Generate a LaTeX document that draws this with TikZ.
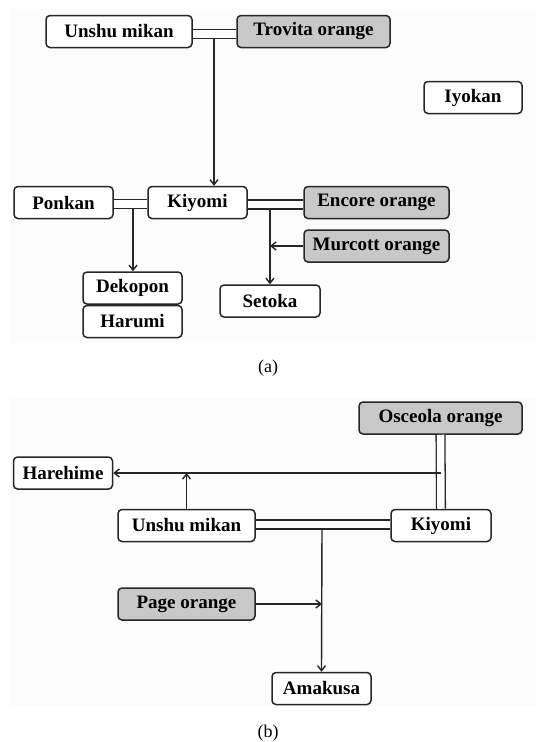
\documentclass[tikz,border=0pt]{standalone}
\usepackage{fontspec}
\setmainfont{Liberation Serif}
\usetikzlibrary{arrows.meta,calc}
\definecolor{boxgray}{HTML}{C8C8C8}
\definecolor{panel}{HTML}{FCFCFC}
\begin{document}
\begin{tikzpicture}[x=1pt,y=-1pt,
  cult/.style={draw=black!85,line width=1.5pt,rounded corners=4pt,fill=white,
    minimum height=32pt,inner sep=0pt,font=\fontsize{19}{22}\selectfont\bfseries},
  parent/.style={cult,fill=boxgray},
  dbl/.style={draw=black!85,double=white,double distance=7.5pt,line width=1.3pt},
  arr/.style={draw=black!85,line width=1.4pt,-{Straight Barb[length=5pt,width=8pt]}},
  captext/.style={font=\fontsize{18}{20}\selectfont}]
\useasboundingbox (0,0) rectangle (536,742);
\fill[panel] (10,9) rectangle (536,343);
\fill[panel] (10,398) rectangle (536,706);
% ---------- (a) ----------
\node[cult,minimum width=146pt] (um1) at (119,31.5) {Unshu mikan};
\node[parent,minimum width=153pt] (tro) at (313.5,31.5) {Trovita orange};
\node[cult,minimum width=98pt] (iyo) at (473,97.5) {Iyokan};
\node[cult,minimum width=99pt] (pon) at (63.5,202.5) {Ponkan};
\node[cult,minimum width=99pt] (kiy1) at (197.5,202.5) {Kiyomi};
\node[parent,minimum width=145pt] (enc) at (376.5,202.5) {Encore orange};
\node[parent,minimum width=145pt] (mur) at (376.5,246) {Murcott orange};
\node[cult,minimum width=99pt] (dek) at (132.5,288) {Dekopon};
\node[cult,minimum width=99pt] (har) at (132.5,321.5) {Harumi};
\node[cult,minimum width=100pt] (set) at (270,301) {Setoka};
\node[captext] (capa) at (268,368) {(a)};
\draw[dbl] ($(um1.east)+(0,2.5)$) -- ($(tro.west)+(0,2.5)$);
\coordinate (c1) at (214,39);
\draw[arr] (c1) -- (c1 |- kiy1.north);
\draw[dbl] ($(pon.east)+(0,1.5)$) -- ($(kiy1.west)+(0,1.5)$);
\coordinate (c2) at (133,209);
\draw[arr] (c2) -- (c2 |- dek.north);
\draw[dbl] ($(kiy1.east)+(0,2)$) -- ($(enc.west)+(0,2)$);
\coordinate (c3) at (270,209);
\draw[arr] (c3) -- (set.north);
\draw[arr] (mur.west) -- (c3 |- mur.west);
% ---------- (b) ----------
\node[parent,minimum width=163pt] (osc) at (440.5,418) {Osceola orange};
\node[cult,minimum width=99pt] (hah) at (63,473) {Harehime};
\node[cult,minimum width=137pt] (um2) at (186.5,525.5) {Unshu mikan};
\node[cult,minimum width=100pt] (kiy2) at (441,525.5) {Kiyomi};
\node[parent,minimum width=137pt] (pag) at (186.5,604) {Page orange};
\node[cult,minimum width=99pt] (ama) at (321.5,688.5) {Amakusa};
\node[captext] (capb) at (268,733) {(b)};
\draw[dbl] (osc.south) -- (kiy2.north);
\coordinate (c4) at (440.5,473);
\draw[arr] (c4) -- (hah.east);
\draw[arr] (um2.north) -- (um2.north |- c4);
\draw[dbl] ($(um2.east)+(0,-1)$) -- ($(kiy2.west)+(0,-1)$);
\coordinate (c5) at (322,528);
\draw[arr] (c5) -- (ama.north);
\draw[arr] (pag.east) -- (c5 |- pag.east);
\end{tikzpicture}
\end{document}
